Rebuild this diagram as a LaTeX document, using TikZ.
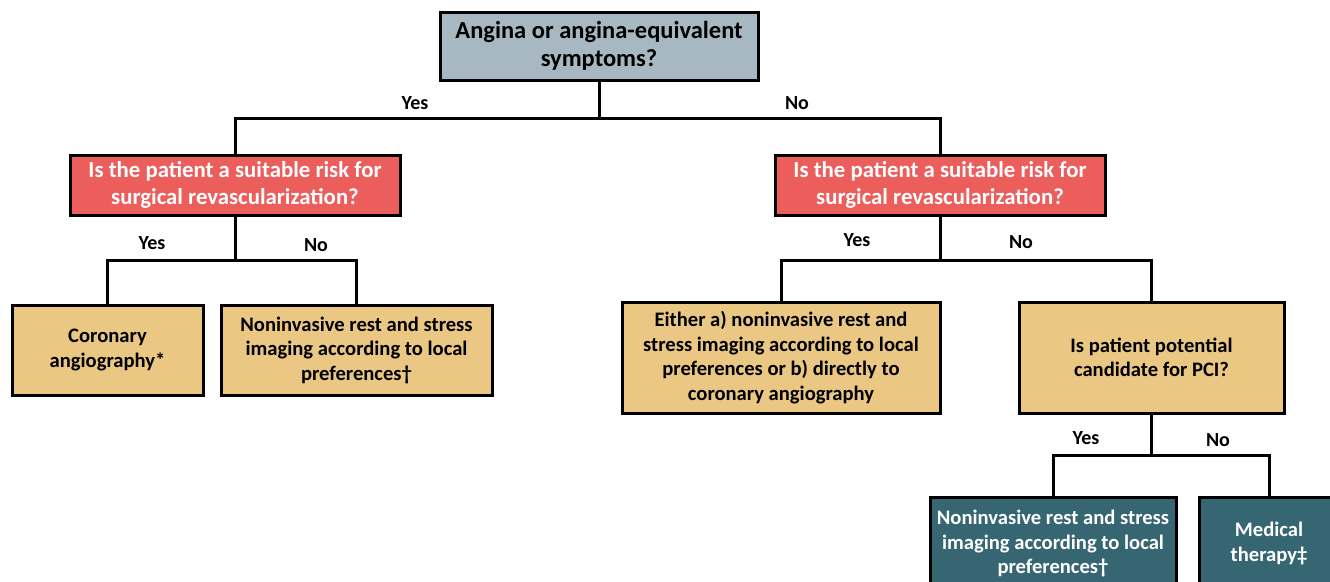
\documentclass[tikz,border=0pt]{standalone}
\usepackage{fontspec}
\setmainfont{Carlito}
\definecolor{topfill}{HTML}{A7B8C2}
\definecolor{redfill}{HTML}{EC5E5C}
\definecolor{tanfill}{HTML}{EAC883}
\definecolor{tealfill}{HTML}{366671}
\begin{document}
\begin{tikzpicture}[x=1pt,y=-1pt,
  box/.style={draw=black, line width=3pt, align=center, inner sep=0pt,
    font=\bfseries\fontsize{20.6}{24.5}\selectfont},
  topbox/.style={box, fill=topfill, text=black, font=\bfseries\fontsize{24.5}{28}\selectfont},
  redbox/.style={box, fill=redfill, text=white, font=\bfseries\fontsize{22.8}{27}\selectfont},
  tanbox/.style={box, fill=tanfill, text=black},
  tealbox/.style={box, fill=tealfill, text=white},
  conn/.style={draw=black, line width=3pt},
  lbl/.style={font=\bfseries\fontsize{20}{22}\selectfont, inner sep=0pt}]
\useasboundingbox (0,0) rectangle (1330,581);
\clip (0,0) rectangle (1330,581);
\fill[white] (0,0) rectangle (1330,581);

\node[topbox, minimum width=318, minimum height=68] (top) at (599,46) {Angina or angina-equivalent\\symptoms?};
\node[redbox, minimum width=330, minimum height=60] (lq) at (235,185) {Is the patient a suitable risk for\\surgical revascularization?};
\node[redbox, minimum width=330, minimum height=60] (rq) at (940,185) {Is the patient a suitable risk for\\surgical revascularization?};
\node[tanbox, minimum width=191, minimum height=90] (coro) at (107.5,350) {Coronary\\angiography*};
\node[tanbox, minimum width=271, minimum height=90] (noni) at (356.5,350) {Noninvasive rest and stress\\imaging according to local\\preferences\textdagger};
\node[tanbox, minimum width=318, minimum height=111] (either) at (781,357.5) {Either a) noninvasive rest and\\stress imaging according to local\\preferences or b) directly to\\coronary angiography};
\node[tanbox, minimum width=265, minimum height=111] (pci) at (1151.5,357.5) {Is patient potential\\candidate for PCI?};
\node[tealbox, minimum width=246, minimum height=92, anchor=north] (noni2) at (1053,496) {Noninvasive rest and stress\\imaging according to local\\preferences\textdagger};
\node[tealbox, minimum width=140, minimum height=92, anchor=north] (med) at (1269,496) {Medical\\therapy\textdaggerdbl};

\coordinate (j1) at (599,118);
\coordinate (j2) at (235,260);
\coordinate (j3) at (940,260);
\coordinate (j4) at (1151.5,455);

\draw[conn] (top.south) -- (j1);
\draw[conn] (lq.north) |- (j1) -| (rq.north);
\draw[conn] (lq.south) -- (j2);
\draw[conn] (coro.north) |- (j2) -| (noni.north);
\draw[conn] (rq.south) -- (j3);
\draw[conn] (either.north) |- (j3) -| (pci.north);
\draw[conn] (pci.south) -- (j4);
\draw[conn] (noni2.north) |- (j4) -| (med.north);

\node[lbl] (y1) at (415,103) {Yes};
\node[lbl] (n1) at (797,103) {No};
\node[lbl] (y2) at (152,243) {Yes};
\node[lbl] (n2) at (316,245) {No};
\node[lbl] (y3) at (857,240) {Yes};
\node[lbl] (n3) at (1021,242) {No};
\node[lbl] (y4) at (1086,438) {Yes};
\node[lbl] (n4) at (1218,440) {No};
\end{tikzpicture}
\end{document}
